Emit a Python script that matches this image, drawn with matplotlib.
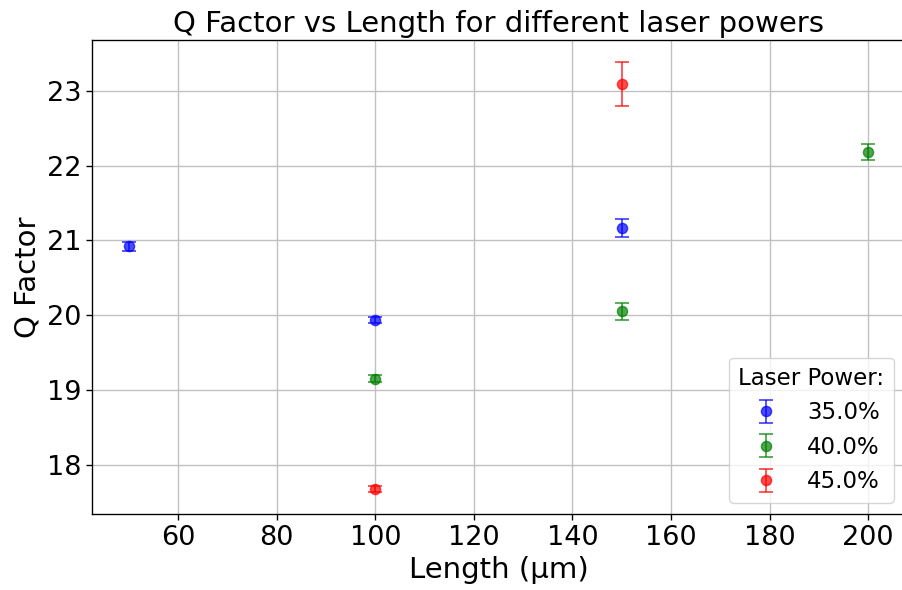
import matplotlib
matplotlib.use("Agg")
import matplotlib.pyplot as plt
import numpy as np

# Q factor measurements, grouped by laser power
powers = [35.0, 40.0, 45.0]
colors = ['blue', 'green', 'red']

length_35 = [50, 100, 150]
q_35 = [20.92, 19.93, 21.17]
err_35 = [0.06, 0.04, 0.12]

length_40 = [100, 150, 200]
q_40 = [19.15, 20.05, 22.18]
err_40 = [0.05, 0.11, 0.11]

length_45 = [100, 150]
q_45 = [17.67, 23.09]
err_45 = [0.04, 0.30]

lengths = [length_35, length_40, length_45]
qs = [q_35, q_40, q_45]
errs = [err_35, err_40, err_45]

s = 1.22  # the original looks rendered at a slightly higher scale

fig = plt.figure(figsize=(9.02, 5.9), dpi=100)
ax = fig.add_axes([92 / 902, 1 - 514 / 590, (905 - 92) / 902, (514 - 40) / 590])

for p, c, x, y, e in zip(powers, colors, lengths, qs, errs):
    ax.errorbar(x, y, yerr=e, fmt='o', color=c, alpha=0.7, capsize=4 * s,
                markersize=6 * s, elinewidth=1.3, capthick=1.3,
                label=f'{p}%')

ax.set_title('Q Factor vs Length for different laser powers', fontsize=21)
ax.set_xlabel('Length (µm)', fontsize=21)
ax.set_ylabel('Q Factor', fontsize=21)
ax.tick_params(labelsize=19.5, width=0.8 * s, length=3.5 * s)
for sp in ax.spines.values():
    sp.set_linewidth(0.8 * s)
ax.grid(True, linewidth=0.8 * s, color='#c0c0c0')
ax.legend(title='Laser Power:', loc='lower right', fontsize=16.5,
          title_fontsize=16.5)

fig.savefig('out.png')
